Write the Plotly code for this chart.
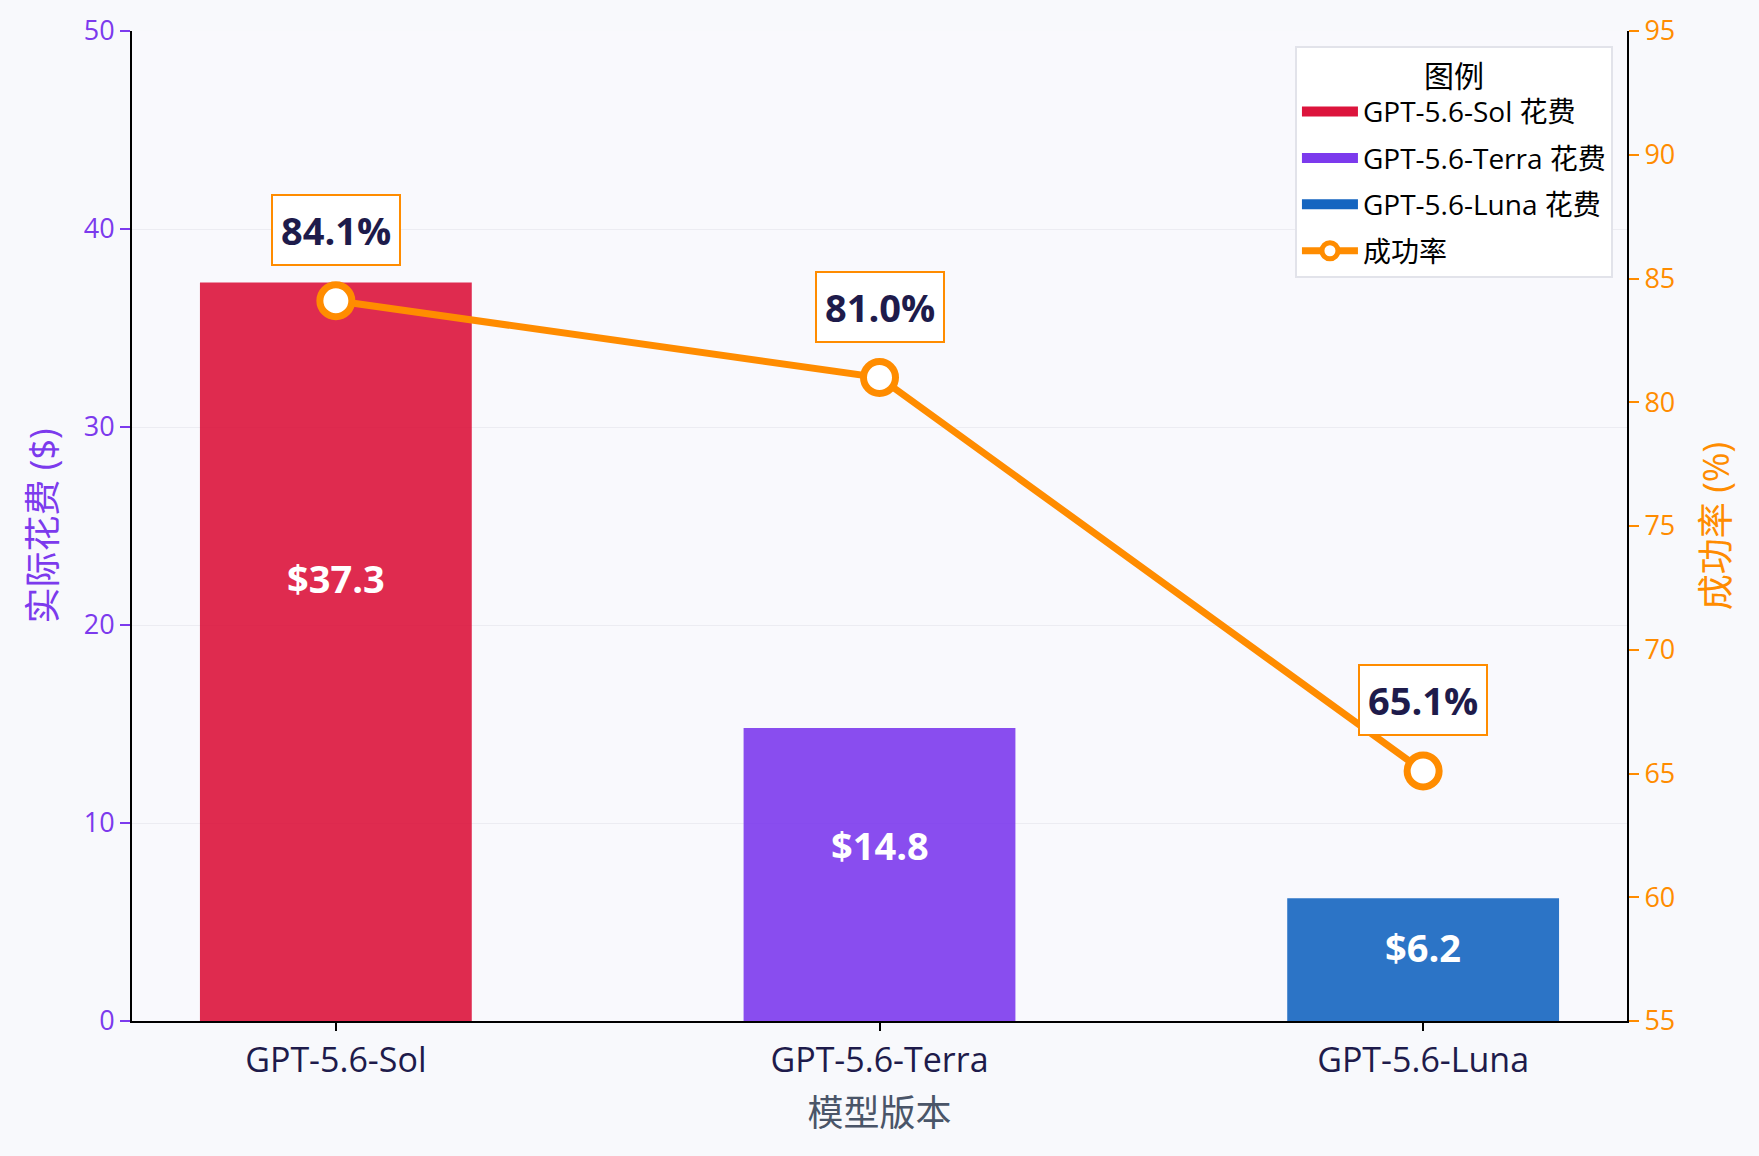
import plotly.graph_objects as go

models = ["GPT-5.6-Sol", "GPT-5.6-Terra", "GPT-5.6-Luna"]
cost = [37.3, 14.8, 6.2]
success = [84.1, 81.0, 65.1]
bar_colors = ["#DC143C", "#7C3AED", "#1565C0"]
legend_names = ["GPT-5.6-Sol 花费", "GPT-5.6-Terra 花费", "GPT-5.6-Luna 花费"]

FONT = "Open Sans, Noto Sans CJK SC, sans-serif"
PURPLE = "#7C3AED"
ORANGE = "#FF8C00"
NAVY = "#1E1B4B"

fig = go.Figure()
for i, (m, c, col, nm) in enumerate(zip(models, cost, bar_colors, legend_names)):
    fig.add_trace(go.Bar(x=[m], y=[c], name=nm, width=0.5, showlegend=False, legendgroup=f"g{i}",
                         marker=dict(color=col, opacity=0.9, line=dict(width=0)),
                         yaxis="y"))
    # legend-only entry with a wide rectangular swatch
    fig.add_trace(go.Scatter(x=[None], y=[None], name=nm, mode="lines", legendgroup=f"g{i}",
                             line=dict(color=col, width=18), yaxis="y"))

fig.add_trace(go.Scatter(x=models, y=success, name="成功率", yaxis="y2", legendgroup="g3",
                         mode="lines+markers",
                         line=dict(color=ORANGE, width=7),
                         marker=dict(size=32, color="white", line=dict(color=ORANGE, width=7))))

for m, c in zip(models, cost):
    fig.add_annotation(x=m, y=c * 0.6, xref="x", yref="y", text=f"<b>${c:.1f}</b>",
                       showarrow=False, font=dict(family=FONT, size=38, color="white"))

for m, s in zip(models, success):
    fig.add_annotation(x=m, y=s, xref="x", yref="y2", text=f"<b>{s:.1f}%</b>",
                       showarrow=False, yshift=71,
                       font=dict(family=FONT, size=38, color=NAVY),
                       bgcolor="white", bordercolor=ORANGE, borderwidth=2, borderpad=8)

fig.update_layout(
    width=1759, height=1156,
    margin=dict(l=132, r=132, t=31, b=135),
    paper_bgcolor="#F8F9FC", plot_bgcolor="#F9F9FD",
    barmode="overlay",
    font=dict(family=FONT),
    showlegend=True,
    legend=dict(x=0.9906, y=0.985, xanchor="right", yanchor="top",
                bgcolor="white", bordercolor="#E2E3EA", borderwidth=2,
                font=dict(family=FONT, size=28, color="black"),
                title=dict(text="图例", side="top center", font=dict(family=FONT, size=30, color="black")),
                tracegroupgap=7, itemwidth=56, traceorder="grouped"),
    xaxis=dict(range=[-0.375, 2.375], showline=True, linecolor="black", linewidth=2,
               ticks="outside", ticklen=8, tickwidth=2, tickcolor="black",
               tickfont=dict(family=FONT, size=34, color=NAVY),
               title=dict(text="模型版本", font=dict(family=FONT, size=36, color="#4A5568"), standoff=20),
               showgrid=False, zeroline=False),
    yaxis=dict(range=[0, 50], tickvals=[0, 10, 20, 30, 40, 50], showline=True, linecolor="black", linewidth=2,
               ticks="outside", ticklen=10, tickwidth=2, tickcolor=PURPLE,
               tickfont=dict(family=FONT, size=27, color=PURPLE),
               title=dict(text="实际花费 ($)", font=dict(family=FONT, size=36, color=PURPLE), standoff=16),
               showgrid=True, gridcolor="#ECECF2", gridwidth=1, zeroline=False),
    yaxis2=dict(range=[55, 95], tickvals=[55, 60, 65, 70, 75, 80, 85, 90, 95], overlaying="y", side="right",
                showline=True, linecolor="black", linewidth=2,
                ticks="outside", ticklen=10, tickwidth=2, tickcolor=ORANGE,
                tickfont=dict(family=FONT, size=27, color=ORANGE),
                title=dict(text="成功率 (%)", font=dict(family=FONT, size=36, color=ORANGE), standoff=30),
                showgrid=False, zeroline=False),
)

fig.write_html("out.html")
